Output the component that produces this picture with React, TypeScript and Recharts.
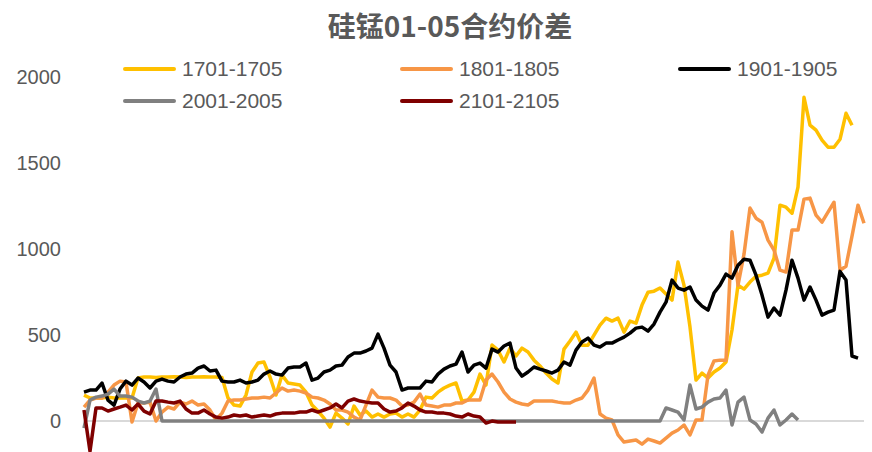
import { LineChart, Line, XAxis, YAxis, ReferenceLine } from 'recharts';

// 硅锰 01-05 合约价差, one array per contract year (daily index from start of window)
const s1701 = [
  151, 134, 134, 134, 139, 134, 134, 134, 134, 250,
  256, 256, 253, 256, 256, 258, 256, 253, 256, 256,
  258, 256, 256, 253, 134, 93, 87, 151, 285, 337,
  343, 256, 151, 267, 221, 215, 209, 168, 93, 58,
  17, -35, 46, 17, -17, 87, 35, 58, 23, 41,
  23, 41, 46, 23, 41, 23, 64, 139, 134, 168,
  192, 209, 221, 116, 122, 168, 273, 209, 442, 412,
  343, 424, 378, 424, 401, 354, 320, 279, 244, 221,
  418, 465, 517, 441, 441, 500, 558, 598, 581, 598,
  517, 581, 569, 674, 749, 755, 773, 738, 703, 924,
  790, 546, 238, 279, 250, 285, 308, 343, 529, 790,
  767, 808, 842, 848, 860, 947, 1255, 1243, 1208, 1360,
  1882, 1720, 1691, 1633, 1592, 1592, 1638, 1789, 1720,
];

const s1801 = [
  81, 122, 134, 134, 168, 209, 232, 227, -6, 105,
  105, 110, 0, 52, 81, 70, 110, 99, 116, 93,
  99, 64, 6, 46, 116, 122, 122, 128, 134, 134,
  139, 134, 163, 192, 174, 180, 174, 163, 139, 134,
  122, 99, 64, 64, 52, 23, 6, 93, 180, 139,
  134, 134, 122, 87, 93, 110, 157, 93, 87, 81,
  93, 93, 105, 105, 122, 122, 122, 238, 273, 227,
  168, 128, 110, 99, 93, 116, 116, 116, 116, 110,
  105, 105, 122, 134, 180, 250, 41, 17, 6, -81,
  -122, -116, -110, -134, -105, -116, -128, -99, -70, -52,
  -23, -81, 6, 6, 267, 349, 354, 354, 1100, 790,
  970, 1238, 1179, 1156, 1052, 994, 877, 866, 1110, 1110,
  1290, 1296, 1197, 1156, 1214, 1272, 877, 900, 1075, 1255,
  1150,
];

const s1901 = [
  168, 180, 180, 221, 122, 93, 186, 232, 209, 250,
  227, 192, 232, 244, 232, 227, 256, 273, 279, 308,
  320, 291, 296, 232, 227, 227, 238, 221, 227, 238,
  273, 291, 273, 267, 308, 314, 314, 337, 238, 250,
  285, 296, 320, 325, 372, 395, 395, 407, 424, 505,
  424, 325, 285, 180, 192, 192, 192, 232, 227, 273,
  302, 320, 331, 401, 285, 325, 337, 308, 418, 401,
  436, 453, 308, 261, 285, 314, 302, 291, 279, 296,
  343, 325, 412, 459, 482, 441, 430, 453, 453, 471,
  488, 511, 540, 546, 523, 564, 633, 691, 819, 773,
  761, 779, 703, 668, 645, 744, 790, 854, 831, 906,
  941, 935, 848, 732, 604, 657, 616, 761, 935, 831,
  703, 779, 703, 616, 633, 645, 870, 820, 378, 366,
];

const s2001 = [
  -41, 122, 139, 145, 157, 186, 145, 145, 139, 116,
  105, 116, 186, 0, 0, 0, 0, 0, 0, 0,
  0, 0, 0, 0, 0, 0, 0, 0, 0, 0,
  0, 0, 0, 0, 0, 0, 0, 0, 0, 0,
  0, 0, 0, 0, 0, 0, 0, 0, 0, 0,
  0, 0, 0, 0, 0, 0, 0, 0, 0, 0,
  0, 0, 0, 0, 0, 0, 0, 0, 0, 0,
  0, 0, 0, 0, 0, 0, 0, 0, 0, 0,
  0, 0, 0, 0, 0, 0, 0, 0, 0, 0,
  0, 0, 0, 0, 0, 0, 0, 76, 64, 52,
  6, 209, 70, 81, 110, 128, 134, 180, -23, 110,
  139, 6, -17, -64, 17, 64, -23, 6, 41, 6,
];

const s2101 = [
  64, -175, 76, 76, 58, 70, 81, 93, 64, 99,
  58, 41, 116, 116, 110, 105, 116, 70, 46, 46,
  64, 41, 23, 17, 23, 35, 29, 35, 23, 29,
  35, 29, 41, 46, 46, 46, 52, 52, 64, 52,
  64, 76, 99, 76, 116, 128, 116, 110, 105, 105,
  70, 52, 58, 76, 105, 87, 64, 52, 52, 46,
  46, 41, 29, 23, 41, 29, 23, -12, 0, -6,
  -6, -6, -6,
];

const yTicks = [0, 500, 1000, 1500, 2000];

const series = [
  { key: 's1701', name: '1701-1705', color: '#FFC000', values: s1701 },
  { key: 's1801', name: '1801-1805', color: '#F79646', values: s1801 },
  { key: 's1901', name: '1901-1905', color: '#000000', values: s1901 },
  { key: 's2001', name: '2001-2005', color: '#808080', values: s2001 },
  { key: 's2101', name: '2101-2105', color: '#7F0000', values: s2101 },
];

const pointCount = Math.max(...series.map((s) => s.values.length));

const chartData = Array.from({ length: pointCount }, (_, i) => {
  const row: Record<string, number | null> = { day: i };
  series.forEach((s) => {
    row[s.key] = i < s.values.length ? s.values[i] : null;
  });
  return row;
});

const FONT = '"Liberation Sans", Arial, sans-serif';
const TEXT = '#595959';

// legend slots: [left, centerY] in page pixels, Excel-style 3-column wrap
const legendSlots = [
  [123, 69],
  [400, 69],
  [678, 69],
  [123, 101],
  [400, 101],
];

export default function App() {
  return (
    <div
      style={{
        position: 'absolute',
        left: 0,
        top: 0,
        width: 872,
        height: 452,
        background: '#fff',
        overflow: 'hidden',
      }}
    >
      <div
        style={{
          position: 'absolute',
          left: 0,
          top: 5,
          width: 900,
          textAlign: 'center',
          fontFamily: '"Noto Sans CJK SC", sans-serif',
          fontWeight: 'bold',
          fontSize: 28,
          color: TEXT,
          zIndex: 2,
        }}
      >
        硅锰01-05合约价差
      </div>

      {/* Legend */}
      {series.map((s, idx) => (
        <div
          key={s.key}
          style={{
            position: 'absolute',
            left: legendSlots[idx][0],
            top: legendSlots[idx][1] - 12,
            height: 24,
            display: 'flex',
            alignItems: 'center',
            fontFamily: FONT,
            fontSize: 21,
            color: TEXT,
            whiteSpace: 'nowrap',
            zIndex: 2,
          }}
        >
          <span
            style={{
              display: 'inline-block',
              width: 53,
              height: 4,
              borderRadius: 2,
              background: s.color,
              marginRight: 6,
            }}
          />
          {s.name}
        </div>
      ))}

      <LineChart
        width={872}
        height={452}
        data={chartData}
        margin={{ top: 77, right: 8, left: 0, bottom: 0 }}
      >
        <XAxis dataKey="day" hide />
        <YAxis
          width={84}
          domain={[-180, 2000]}
          ticks={yTicks}
          allowDataOverflow
          axisLine={false}
          tickLine={false}
          tickMargin={17}
          tick={{ fill: TEXT, fontSize: 20, fontFamily: FONT }}
        />
        <ReferenceLine y={0} stroke="#D9D9D9" strokeWidth={2} />
        {series.map((s) => (
          <Line
            key={s.key}
            type="linear"
            dataKey={s.key}
            name={s.name}
            stroke={s.color}
            strokeWidth={3.5}
            strokeLinejoin="round"
            dot={false}
            activeDot={false}
            connectNulls={false}
            isAnimationActive={false}
          />
        ))}
      </LineChart>
    </div>
  );
}
